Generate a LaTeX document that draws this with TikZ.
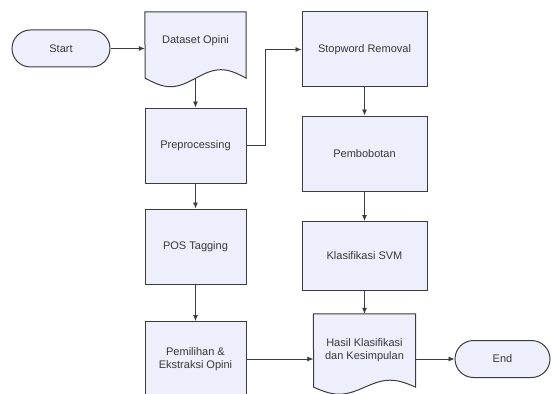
\documentclass[tikz,border=0pt]{standalone}
\usepackage{fontspec}
\setmainfont{Liberation Sans}
\usepackage{xcolor}
\usepackage{tikz}
\usetikzlibrary{arrows.meta}
\usetikzlibrary{backgrounds}

\definecolor{boxfill}{RGB}{238,239,252}
\definecolor{boxline}{RGB}{60,60,60}
\definecolor{boxtext}{RGB}{56,56,56}

\begin{document}
\begin{tikzpicture}[x = 1pt, y = -1pt,
                	    term/.style = { rectangle, rounded corners = 18.5pt, draw = boxline, fill = boxfill, line width = 1pt, minimum height = 37pt, font = \fontsize{11}{13}\selectfont, text = boxtext },
                		proc/.style = { rectangle, draw = boxline, fill = boxfill, line width = 1pt, minimum width = 101pt, minimum height = 75pt, font = \fontsize{11}{13}\selectfont, text = boxtext, align = center },
                		doc/.style = { rectangle, inner sep = 0pt, minimum width = 101pt, font = \fontsize{11}{13}\selectfont, text = boxtext, align = center },
                		docline/.style = { draw = boxline, fill = boxfill, line width = 1pt },
                		flow/.style = { -{Latex[length = 6pt, width = 5pt]}, draw = boxline, line width = 0.8pt },
            		]
            		    \useasboundingbox (0,0) rectangle (553,393);
            		    \node[term, minimum width = 98pt] (Start) at (61,48.5) {Start};
            		    \node[doc, text height = 32pt, text depth = 34pt] (Dataset) at (195.5,45) {Dataset Opini};
            		    \node[proc] (Prep) at (195.5,145.5) {Preprocessing};
            		    \node[proc] (Pos) at (195.5,246.5) {POS Tagging};
            		    \node[proc] (Pilih) at (195.5,359) {Pemilihan \&\\Ekstraksi Opini};
            		    \node[proc, minimum width = 125pt] (Stop) at (364.5,49.5) {Stopword Removal};
            		    \node[proc, minimum width = 125pt] (Bobot) at (364.5,153.5) {Pembobotan};
            		    \node[proc, minimum width = 125pt, minimum height = 69pt] (Svm) at (364.5,256) {Klasifikasi SVM};
            		    \node[doc, minimum width = 102pt, minimum height = 73pt] (Hasil) at (364.5,350.5) {Hasil Klasifikasi\\dan Kesimpulan};
            		    \node[term, minimum width = 95pt] (End) at (502.5,359) {End};
            		    % document outlines with a wavy bottom
            		    \begin{scope}[on background layer]
            		        \path[docline] (Dataset.north west) -- (Dataset.north east) -- (Dataset.south east) sin ++(-25.25,-8.5) cos ++(-25.25,8.5) sin ++(-25.25,8.5) cos ++(-25.25,-8.5) -- cycle;
            		        \path[docline] (Hasil.north west) -- (Hasil.north east) -- (Hasil.south east) sin ++(-25.5,-7) cos ++(-25.5,7) sin ++(-25.5,7) cos ++(-25.5,-7) -- cycle;
            		    \end{scope}
            		    \draw[flow] (Start) -- (Start -| Dataset.west);
            		    \draw[flow] (Dataset.south) -- (Prep.north);
            		    \draw[flow] (Prep) -- (Pos);
            		    \draw[flow] (Pos) -- (Pilih);
            		    \draw[flow] (Prep.east) -- ++(19,0) |- (Stop.west);
            		    \draw[flow] (Stop) -- (Bobot);
            		    \draw[flow] (Bobot) -- (Svm);
            		    \draw[flow] (Svm) -- (Hasil.north);
            		    \draw[flow] (Pilih) -- (Pilih -| Hasil.west);
            		    \draw[flow] (Pilih -| Hasil.east) -- (End);
            		\end{tikzpicture}
\end{document}
